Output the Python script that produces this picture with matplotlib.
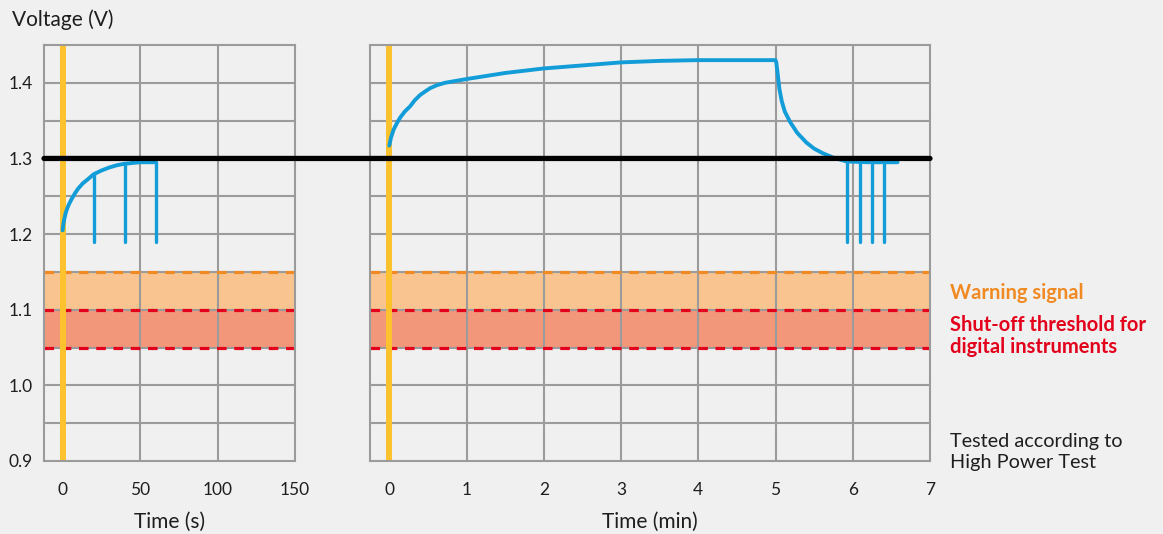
import numpy as np
import matplotlib.pyplot as plt
from matplotlib.patches import ConnectionPatch

plt.rcParams['font.family'] = ['Lato', 'DejaVu Sans']

# left panel: first seconds of the test
t_sec = [0, 0.5, 1, 2, 3, 4, 6, 8, 10, 13, 16, 20, 25, 30, 35, 40, 45, 50, 55, 60]
v_sec = [1.205, 1.213, 1.219, 1.228, 1.234, 1.239, 1.247, 1.254, 1.260, 1.267, 1.272, 1.279,
         1.284, 1.288, 1.291, 1.293, 1.294, 1.295, 1.295, 1.295]
spikes_sec = [20, 40, 60]

# right panel: minutes
t_min = [0, 0.02, 0.055, 0.1, 0.14, 0.2, 0.27, 0.33, 0.4, 0.47, 0.53, 0.62, 0.72,
         1.0, 1.5, 2.0, 2.5, 3.0, 3.5, 4.0, 4.5, 5.0,
         5.01, 5.03, 5.05, 5.08, 5.12, 5.19, 5.28, 5.4, 5.5, 5.61, 5.75, 5.92, 6.2, 6.58]
v_min = [1.317, 1.327, 1.338, 1.347, 1.354, 1.362, 1.369, 1.377, 1.384, 1.389, 1.393, 1.397, 1.400,
         1.405, 1.413, 1.419, 1.423, 1.427, 1.429, 1.430, 1.430, 1.430,
         1.427, 1.410, 1.392, 1.376, 1.362, 1.348, 1.334, 1.321, 1.313, 1.307, 1.301, 1.296, 1.295, 1.295]
spikes_min = [5.92, 6.09, 6.25, 6.41]

spike_bottom = 1.19
threshold = 1.30
warning_band = (1.10, 1.15)
shutoff_band = (1.05, 1.10)

sec_ticks = [0, 50, 100, 150]
min_ticks = [0, 1, 2, 3, 4, 5, 6, 7]
volt_ticks = [0.9, 1.0, 1.1, 1.2, 1.3, 1.4]

bg = '#f0f0f0'
grid_c = '#9b9b9b'
blue = '#139dd8'
yellow = '#fdc22d'
orange = '#f18a22'
red = '#e3001b'
txt = '#1e1e1e'

fig = plt.figure(figsize=(11.63, 5.34), dpi=100, facecolor=bg)
ax1 = fig.add_axes([44 / 1163, 1 - 461 / 534, 251 / 1163, 416 / 534])
ax2 = fig.add_axes([370 / 1163, 1 - 461 / 534, 560 / 1163, 416 / 534])


def style_panel(ax, xlim, xticks, xgrid):
    ax.set_facecolor(bg)
    ax.set_xlim(*xlim)
    ax.set_ylim(0.9, 1.45)
    ax.set_xticks(xticks)
    ax.set_xticklabels([str(t) for t in xticks])
    for x in xgrid:
        ax.axvline(x, color=grid_c, lw=1.5, zorder=0.6)
    for y in np.arange(0.95, 1.449, 0.05):
        ax.axhline(y, color=grid_c, lw=1.5, zorder=0.6)
    for s in ax.spines.values():
        s.set_color(grid_c)
        s.set_linewidth(1.5)
    ax.tick_params(length=0, labelsize=12.5, colors=txt)
    ax.tick_params(axis='x', pad=15)
    ax.tick_params(axis='y', pad=8)
    # bands
    ax.axhspan(*warning_band, color='#f9c48f', lw=0, zorder=0.3)
    ax.axhspan(*shutoff_band, color='#f3977a', lw=0, zorder=0.3)
    ax.axhline(warning_band[1], color=orange, lw=2.3, ls=(0, (3, 2.4)), zorder=0.7)
    ax.axhline(shutoff_band[1], color=red, lw=2.3, ls=(0, (3, 2.4)), zorder=0.7)
    ax.axhline(shutoff_band[0], color=red, lw=2.3, ls=(0, (3, 2.4)), zorder=0.7)
    ax.axvline(0, color=yellow, lw=4.3, zorder=1)


style_panel(ax1, (-12, 150), sec_ticks, [50, 100])
style_panel(ax2, (-0.25, 7), min_ticks, [1, 2, 3, 4, 5, 6])

ax1.set_yticks(volt_ticks)
ax1.set_yticklabels([f'{v:.1f}' for v in volt_ticks])
ax2.set_yticks(volt_ticks)
ax2.set_yticklabels([])

ax1.plot(t_sec, v_sec, color=blue, lw=2.8, solid_capstyle='round', solid_joinstyle='round', zorder=3)
ax1.vlines(spikes_sec, spike_bottom, np.interp(spikes_sec, t_sec, v_sec),
           color=blue, lw=2.4, capstyle='round', zorder=3)
ax2.plot(t_min, v_min, color=blue, lw=2.8, solid_capstyle='round', solid_joinstyle='round', zorder=3)
ax2.vlines(spikes_min, spike_bottom, np.interp(spikes_min, t_min, v_min),
           color=blue, lw=2.4, capstyle='round', zorder=3)

# threshold line runs across both panels
con = ConnectionPatch(xyA=(-12, threshold), coordsA=ax1.transData,
                      xyB=(7, threshold), coordsB=ax2.transData,
                      color='black', lw=3.8, zorder=2.5)
fig.add_artist(con)

ax1.set_xlabel('Time (s)', fontsize=15, color=txt, labelpad=10)
ax2.set_xlabel('Time (min)', fontsize=15, color=txt, labelpad=10)

fig.text(12 / 1163, 1 - 20 / 534, 'Voltage (V)', fontsize=15, color=txt, va='center')
fig.text(950 / 1163, 1 - 293 / 534, 'Warning signal', fontsize=14.5, fontweight='bold',
         color=orange, va='center')
fig.text(950 / 1163, 1 - 336 / 534, 'Shut-off threshold for\ndigital instruments', fontsize=14.5,
         fontweight='bold', color=red, va='center', linespacing=1.12)
fig.text(950 / 1163, 1 - 452 / 534, 'Tested according to\nHigh Power Test', fontsize=14.3,
         color=txt, va='center', linespacing=1.25)

fig.savefig('out.png', dpi=100, facecolor=bg)
